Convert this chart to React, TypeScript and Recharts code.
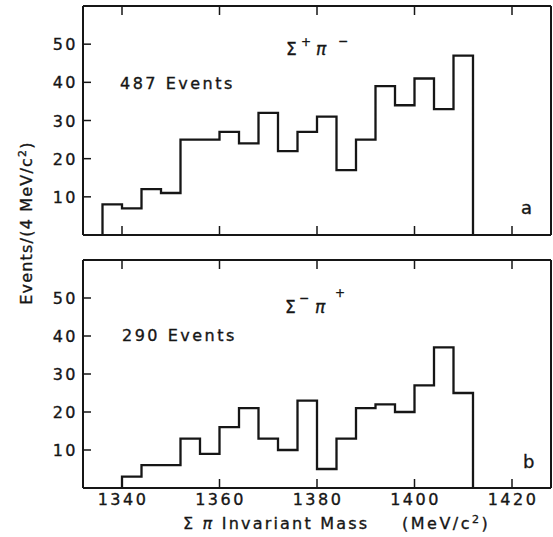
import React from "react";
import { ComposedChart, Line, XAxis, YAxis } from "recharts";

// ── Data ──────────────────────────────────────────────────────────────────
const massTicks = [1340, 1360, 1380, 1400, 1420];
const countTicks = [10, 20, 30, 40, 50];
const binWidth = 4; // MeV/c^2

// Σ+π− : 487 events, bins from 1336
const plusStart = 1336;
const plusCounts = [8, 7, 12, 11, 25, 25, 27, 24, 32, 22, 27, 31, 17, 25, 39, 34, 41, 33, 47];

// Σ−π+ : 290 events, bins from 1340
const minusStart = 1340;
const minusCounts = [3, 6, 6, 13, 9, 16, 21, 13, 10, 23, 5, 13, 21, 22, 20, 27, 37, 25];

// ── Helpers ───────────────────────────────────────────────────────────────
const FONT = "DejaVu Sans";
const INK = "#161616";

/** histogram outline as stepAfter points: rise from 0, steps, drop back to 0 */
function toSteps(start: number, counts: number[]) {
  const pts = [{ m: start, n: 0 }];
  counts.forEach((c, i) => pts.push({ m: start + i * binWidth, n: c }));
  pts.push({ m: start + counts.length * binWidth, n: 0 });
  return pts;
}

// slight stroke to mimic the heavier print type
const txt = { fontFamily: FONT, fontSize: 16, letterSpacing: 2.5, fill: INK, stroke: INK, strokeWidth: 0.35 } as const;

const BottomTick = (props: any) => {
  const { x, y, payload, showLabel } = props;
  return (
    <g>
      <line x1={x} y1={y} x2={x} y2={y - 9} stroke={INK} strokeWidth={1.5} />
      {showLabel && (
        <text x={x + 1} y={y + 17} textAnchor="middle" {...txt}>
          {payload.value}
        </text>
      )}
    </g>
  );
};

const TopTick = ({ x, y }: any) => (
  <line x1={x} y1={y} x2={x} y2={y + 9} stroke={INK} strokeWidth={1.5} />
);

const LeftTick = ({ x, y, payload }: any) => (
  <g>
    <line x1={x} y1={y} x2={x + 8} y2={y} stroke={INK} strokeWidth={1.5} />
    <text x={x - 5} y={y + 6} textAnchor="end" {...txt}>
      {payload.value}
    </text>
  </g>
);

const RightTick = ({ x, y }: any) => (
  <line x1={x} y1={y} x2={x - 8} y2={y} stroke={INK} strokeWidth={1.5} />
);

function Panel({ data, height, top, bottomAxis, showLabels }: any) {
  const axisLine = { stroke: INK, strokeWidth: 2 };
  return (
    <ComposedChart width={553} height={height} data={data}
      margin={{ top, right: 0, bottom: 0, left: 0 }}>
      <XAxis xAxisId="b" dataKey="m" type="number" domain={[1332, 1428]} ticks={massTicks}
        orientation="bottom" height={bottomAxis} tickSize={0} tickMargin={0}
        axisLine={axisLine} tickLine={false} tick={<BottomTick showLabel={showLabels} />}
        allowDataOverflow />
      <XAxis xAxisId="t" dataKey="m" type="number" domain={[1332, 1428]} ticks={massTicks}
        orientation="top" height={2} tickSize={0} tickMargin={0}
        axisLine={axisLine} tickLine={false} tick={<TopTick />} allowDataOverflow />
      <YAxis yAxisId="l" type="number" domain={[0, 60]} ticks={countTicks} width={83}
        tickSize={0} tickMargin={0} axisLine={axisLine} tickLine={false} tick={<LeftTick />} />
      <YAxis yAxisId="r" orientation="right" type="number" domain={[0, 60]} ticks={countTicks}
        width={2} tickSize={0} tickMargin={0} axisLine={axisLine} tickLine={false} tick={<RightTick />} />
      <Line xAxisId="b" yAxisId="l" dataKey="n" type="stepAfter" stroke={INK} strokeWidth={2.3}
        dot={false} activeDot={false} isAnimationActive={false} />
    </ComposedChart>
  );
}

// ── Component ─────────────────────────────────────────────────────────────
export default function App() {
  const plusSteps = toSteps(plusStart, plusCounts);
  const minusSteps = toSteps(minusStart, minusCounts);

  return (
    <div style={{ position: "fixed", left: 0, top: 0, width: 553, height: 537, background: "#fff" }}>
      <div style={{ position: "absolute", left: 0, top: 0 }}>
        <Panel data={plusSteps} height={250} top={4} bottomAxis={15} showLabels={false} />
      </div>
      <div style={{ position: "absolute", left: 0, top: 250 }}>
        <Panel data={minusSteps} height={287} top={8} bottomAxis={49} showLabels />
      </div>

      <svg width={553} height={537} style={{ position: "absolute", left: 0, top: 0, pointerEvents: "none" }}>
        {/* panel a */}
        <text x={120} y={89} {...txt}>487 Events</text>
        <text x={286} y={55} {...txt} fontSize={17}>Σ</text>
        <text x={301} y={46} {...txt} fontSize={12}>+</text>
        <text x={316} y={55} {...txt} fontSize={17} fontStyle="italic">π</text>
        <text x={338} y={45} {...txt} fontSize={12}>−</text>
        <text x={521} y={214} {...txt} fontSize={18}>a</text>

        {/* panel b */}
        <text x={122} y={341} {...txt}>290 Events</text>
        <text x={285} y={313} {...txt} fontSize={17}>Σ</text>
        <text x={299} y={302} {...txt} fontSize={12}>−</text>
        <text x={315} y={313} {...txt} fontSize={17} fontStyle="italic">π</text>
        <text x={335} y={297} {...txt} fontSize={12}>+</text>
        <text x={523} y={468} {...txt} fontSize={18}>b</text>

        {/* axis titles */}
        <text transform="translate(32,223) rotate(-90)" textAnchor="middle" {...txt} letterSpacing={1.2}>
          Events/(4 MeV/c<tspan fontSize={11} dy={-6}>2</tspan><tspan dy={6}>)</tspan>
        </text>
        <text x={183} y={529} {...txt} letterSpacing={2.2}>
          Σ <tspan fontStyle="italic">π</tspan> Invariant Mass
        </text>
        <text x={402} y={529} {...txt}>
          (MeV/c<tspan fontSize={11} dy={-6}>2</tspan><tspan dy={6}>)</tspan>
        </text>
      </svg>
    </div>
  );
}
